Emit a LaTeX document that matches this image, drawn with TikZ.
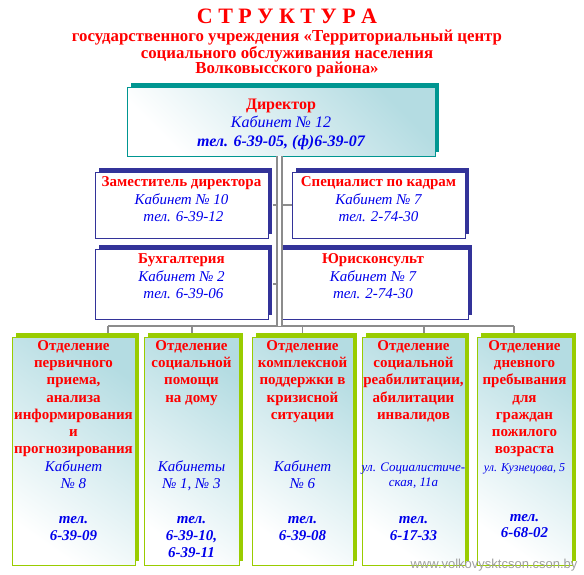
\documentclass[tikz,border=0pt]{standalone}
\usepackage{fontspec}
\setmainfont{Liberation Serif}
\newfontfamily\sitefont{Liberation Sans}
\usepackage{tikz}
\usetikzlibrary{positioning,calc,shadows}
\usepackage{xcolor}
\definecolor{dirteal}{RGB}{0,150,145}
\definecolor{midnavy}{RGB}{51,51,153}
\definecolor{otdlime}{RGB}{153,204,0}
\definecolor{paleteal}{RGB}{180,220,226}
\definecolor{linkgray}{RGB}{140,140,140}
\definecolor{txtblue}{RGB}{0,0,235}
\tikzset{
  dirbox/.style    = {draw=dirteal, line width=0.9pt, top color=paleteal,
                      bottom color=white, shading angle=-45,
                      general shadow={fill=dirteal, shadow xshift=4pt, shadow yshift=4pt},
                      minimum width=308pt, minimum height=69pt},
  midbox/.style    = {draw=midnavy, line width=0.9pt, fill=white,
                      general shadow={fill=midnavy, shadow xshift=4pt, shadow yshift=4pt}},
  otdbox/.style    = {draw=otdlime, line width=0.9pt, top color=paleteal,
                      bottom color=white, shading angle=-35, minimum height=228pt,
                      general shadow={fill=otdlime, shadow xshift=4pt, shadow yshift=4pt}},
  dirtext/.style   = {align=center, inner sep=0pt, text=red,
                      font=\fontsize{16}{18.5}\selectfont\bfseries},
  midtext/.style   = {align=center, inner sep=0pt, text=red,
                      font=\fontsize{15}{17.5}\selectfont\bfseries},
  otdtext/.style   = {align=center, inner sep=0pt, text=red,
                      font=\fontsize{15}{17.3}\selectfont\bfseries},
  linkline/.style  = {draw=linkgray, line width=1.8pt},
  trunkline/.style = {draw=linkgray, line width=1.6pt, double=white, double distance=3.4pt},
}
\newcommand{\roomtxt}[1]{\textcolor{txtblue}{\mdseries\itshape #1}}
\newcommand{\teltxt}[1]{\textcolor{txtblue}{\bfseries\itshape #1}}
\newcommand{\addrtxt}[2]{\textcolor{txtblue}{\fontsize{#1}{#1}\selectfont\mdseries\itshape #2}}

\begin{document}
\begin{tikzpicture}[x=1pt,y=-1pt]
\useasboundingbox (0,0) rectangle (584,574);
% ---------- heading ----------
\node[font=\fontsize{22}{24}\selectfont\bfseries, text=red] (title) at (287,16.8)
  {С Т Р У К Т У Р А};
\node[font=\fontsize{16.8}{15.4}\selectfont\bfseries, text=red,
      align=center] (subtitle) at (287,53.5)
  {государственного учреждения «Территориальный центр\\
   социального обслуживания населения\\
   Волковысского района»};
% ---------- director ----------
\node[dirbox] (dir) at (281,121.5) {};
\node[dirtext, below=12pt of dir.north] (dirt)
  {Директор\\ \roomtxt{Кабинет № 12}\\ \teltxt{тел. 6-39-05, (ф)6-39-07}};
% ---------- deputies ----------
\node[midbox, minimum width=173pt, minimum height=66pt] (zam) at (181.5,205) {};
\node[midbox, minimum width=173pt, minimum height=66pt] (spec) at (378.5,205) {};
\node[midbox, minimum width=173pt, minimum height=70pt] (bukh) at (181.5,284) {};
\node[midbox, minimum width=190pt, minimum height=70pt] (yur) at (373,284) {};
\node[midtext, below=5pt of zam.north] (zamt)
  {Заместитель директора\\ \roomtxt{Кабинет № 10}\\ \roomtxt{\ тел. 6-39-12}};
\node[midtext, below=5pt of spec.north] (spect)
  {Специалист по кадрам\\ \roomtxt{Кабинет № 7}\\ \roomtxt{тел. 2-74-30}};
\node[midtext, below=5pt of bukh.north] (bukht)
  {Бухгалтерия\\ \roomtxt{Кабинет № 2}\\ \roomtxt{\ тел. 6-39-06}};
\node[midtext, below=5pt of yur.north] (yurt)
  {Юрисконсульт\\ \roomtxt{Кабинет № 7}\\ \roomtxt{тел. 2-74-30}};
% ---------- departments ----------
\node[otdbox, minimum width=123pt] (otd1) at (73.5,451) {};
\node[otdbox, minimum width=95pt] (otd2) at (191.5,451) {};
\node[otdbox, minimum width=101pt] (otd3) at (302.5,451) {};
\node[otdbox, minimum width=103pt] (otd4) at (413.5,451) {};
\node[otdbox, minimum width=95pt] (otd5) at (524.5,451) {};
\node[otdtext, below=3.5pt of otd1.north] (otd1t)
  {Отделение\\первичного\\приема,\\анализа\\информирования\\и\\прогнозирования\\
   \roomtxt{Кабинет}\\ \roomtxt{№ 8}\\[17.3pt] \teltxt{тел.}\\ \teltxt{6-39-09}};
\node[otdtext, below=3.5pt of otd2.north] (otd2t)
  {Отделение\\социальной\\помощи\\на дому\\[51.9pt]
   \roomtxt{Кабинеты}\\ \roomtxt{№ 1, № 3}\\[17.3pt]
   \teltxt{тел.}\\ \teltxt{6-39-10,}\\ \teltxt{6-39-11}};
\node[otdtext, below=3.5pt of otd3.north] (otd3t)
  {Отделение\\комплексной\\поддержки в\\кризисной\\ситуации\\[34.6pt]
   \roomtxt{Кабинет}\\ \roomtxt{№ 6}\\[17.3pt] \teltxt{тел.}\\ \teltxt{6-39-08}};
\node[otdtext, below=3.5pt of otd4.north] (otd4t)
  {Отделение\\социальной\\реабилитации,\\абилитации\\инвалидов\\[34.6pt]
   \addrtxt{13}{ул. Социалистиче-}\\[-2.3pt] \addrtxt{13}{ская, 11а}\\[19.7pt]
   \teltxt{тел.}\\ \teltxt{6-17-33}};
\node[otdtext, below=3.5pt of otd5.north] (otd5t)
  {Отделение\\дневного\\пребывания\\для\\граждан\\пожилого\\возраста\\
   \addrtxt{12}{ул. Кузнецова, 5}\\[32.7pt] \teltxt{тел.}\\[-1.3pt] \teltxt{6-68-02}};
% ---------- connectors ----------
\coordinate (trk) at (279.2,326);
\coordinate (busL) at (108,326);
\coordinate (busR) at (514,326);
\draw[linkline] ($(zam.east)+(5,0)$) -- (spec.west);
\draw[linkline] ($(bukh.east)+(5,0)$) -- (bukh.east -| trk);
\draw[linkline] (busL) -- (busR);
\draw[linkline] ($(otd1.north)+(34.5,-4)$) -- ++(0,-7);
\draw[linkline] ($(otd2.north)+(0.5,-4)$) -- ++(0,-7);
\draw[linkline] ($(otd3.north)+(0,-4)$) -- ++(0,-7);
\draw[linkline] ($(otd4.north)+(10.5,-4)$) -- ++(0,-7);
\draw[linkline] ($(otd5.north)+(-10.5,-4)$) -- ++(0,-7);
\draw[trunkline] (dir.south -| trk) -- (trk);
% ---------- site ----------
\node[font=\sitefont\fontsize{13}{13}\selectfont, text=gray!75] (site) at (494,565)
  {www.volkovysktcson.cson.by};
\end{tikzpicture}
\end{document}
